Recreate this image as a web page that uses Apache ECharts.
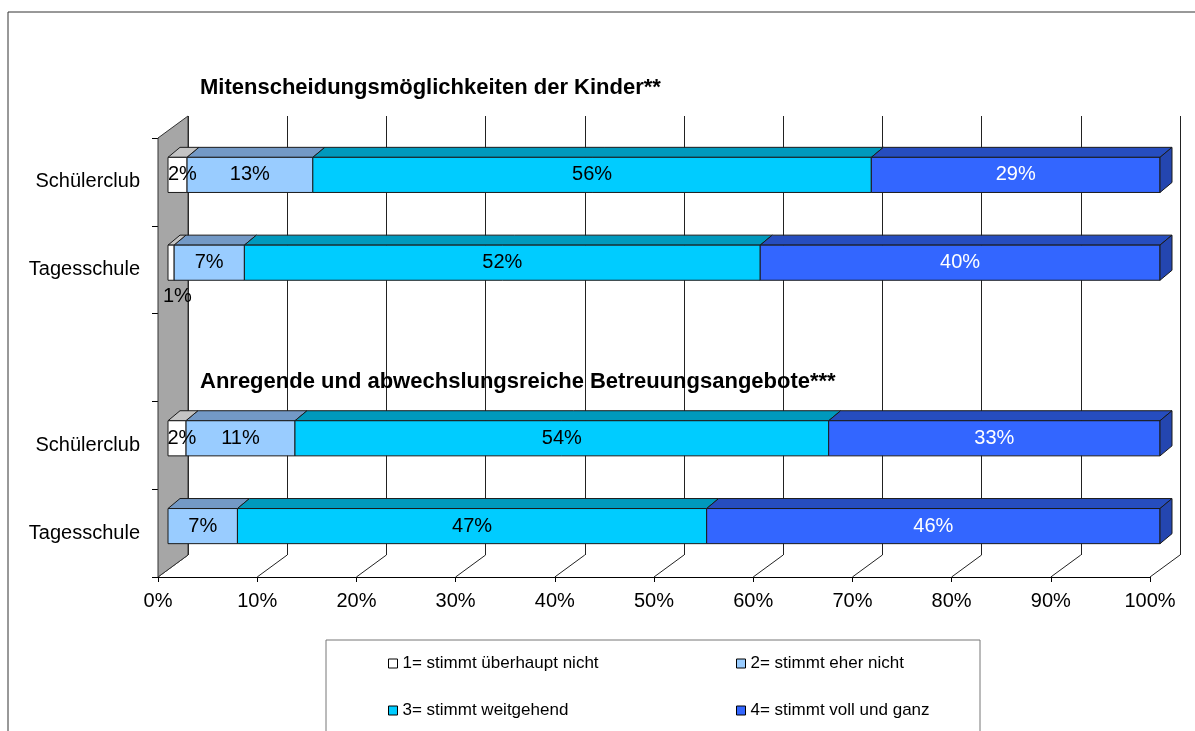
<!DOCTYPE html>
<html>
<head>
<meta charset="utf-8">
<title>Betreuung</title>
<script src="https://cdn.jsdelivr.net/npm/echarts@6/dist/echarts.min.js"></script>
<style>
  html, body { margin: 0; padding: 0; background: #fff; }
  #chart { width: 1195px; height: 731px; }
</style>
</head>
<body>
<div id="chart"></div>
<script>
// Zeilen von oben nach unten, die leere Zeile trennt die zwei Blöcke
const rowLabels = ['Schülerclub', 'Tagesschule', '', 'Schülerclub', 'Tagesschule'];
const blockTitles = [
  'Mitenscheidungsmöglichkeiten der Kinder**',
  'Anregende und abwechslungsreiche Betreuungsangebote***'
];
const seriesNames = [
  '1= stimmt überhaupt nicht',
  '2= stimmt eher nicht',
  '3= stimmt weitgehend',
  '4= stimmt voll und ganz'
];
// Anteile in % je Zeile
const stimmtNicht = [1.9, 0.6, null, 1.8, 0];
const eherNicht = [12.7, 7.1, null, 11.0, 7.0];
const weitgehend = [56.3, 52.0, null, 53.8, 47.3];
const vollGanz = [29.1, 40.3, null, 33.4, 45.7];
const xTicks = [0, 10, 20, 30, 40, 50, 60, 70, 80, 90, 100];

const FONT = '"Liberation Sans", Arial, sans-serif';
const DEPTH_X = 30, DEPTH_Y = 22; // Tiefe der 3D-Wand
const BAR_DX = 12, BAR_DY = 10;   // Tiefe der Balken

// Farben: Vorderseite, Oberseite, Seite, Textfarbe
const styles = [
  { front: '#ffffff', top: '#c4c4c4', side: '#a0a0a0', text: '#000' },
  { front: '#99ccff', top: '#7399c6', side: '#6c8fbb', text: '#000' },
  { front: '#00ccff', top: '#0099bd', side: '#0088aa', text: '#000' },
  { front: '#3366ff', top: '#264dbf', side: '#2446b0', text: '#fff' }
];

const chart = echarts.init(document.getElementById('chart'));

// gestapelte Start/Ende-Werte aufbauen
const allValues = [stimmtNicht, eherNicht, weitgehend, vollGanz];
const stacked = allValues.map(() => []);
rowLabels.forEach((_, r) => {
  let acc = 0;
  allValues.forEach((vals, i) => {
    const v = vals[r];
    if (v == null) return;
    stacked[i].push([r, acc, acc + v, v]);
    acc += v;
  });
});

function barRenderer(st, isLast) {
  return function (params, api) {
    const r = api.value(0), s = api.value(1), e = api.value(2), v = api.value(3);
    if (!(v > 0)) return null;
    const p0 = api.coord([s, r]);
    const p1 = api.coord([e, r]);
    const h = api.size([0, 1])[1] * 0.4;
    const x0 = p0[0], x1 = p1[0];
    const yt = p0[1] - h / 2, yb = p0[1] + h / 2;
    const line = { stroke: '#1a1a1a', lineWidth: 1 };
    const children = [
      {
        type: 'polygon',
        shape: { points: [[x0, yt], [x0 + BAR_DX, yt - BAR_DY], [x1 + BAR_DX, yt - BAR_DY], [x1, yt]] },
        style: Object.assign({ fill: st.top }, line)
      },
      {
        type: 'rect',
        shape: { x: x0, y: yt, width: x1 - x0, height: h },
        style: Object.assign({ fill: st.front }, line)
      }
    ];
    if (isLast) {
      children.push({
        type: 'polygon',
        shape: { points: [[x1, yt], [x1 + BAR_DX, yt - BAR_DY], [x1 + BAR_DX, yb - BAR_DY], [x1, yb]] },
        style: Object.assign({ fill: st.side }, line)
      });
    }
    const txt = Math.round(v) + '%';
    if (v < 1) {
      // zu schmal: Beschriftung unter den Balken
      children.push({
        type: 'text',
        style: { text: txt, x: x0 - 5, y: yb + 16, align: 'left', verticalAlign: 'middle',
                 fill: st.text, fontSize: 20, fontFamily: FONT }
      });
    } else {
      children.push({
        type: 'text',
        style: { text: txt, x: (x0 + x1) / 2 + (v < 3 ? 5 : 0), y: p0[1], align: 'center', verticalAlign: 'middle',
                 fill: st.text, fontSize: 20, fontFamily: FONT }
      });
    }
    return { type: 'group', children: children };
  };
}

// Boden-Linien und linke Wand
function frameRenderer(params, api) {
  const cs = params.coordSys;
  const x = api.coord([api.value(0), 0])[0];
  const yb = cs.y + cs.height;
  const children = [{
    type: 'line',
    shape: { x1: x, y1: yb, x2: x + DEPTH_X, y2: yb - DEPTH_Y },
    style: { stroke: '#222', lineWidth: 1 }
  }];
  if (api.value(0) === 0) {
    children.push({
      type: 'polygon',
      shape: { points: [[x, cs.y], [x + DEPTH_X, cs.y - DEPTH_Y], [x + DEPTH_X, yb - DEPTH_Y], [x, yb]] },
      style: { fill: '#a6a6a6', stroke: '#333', lineWidth: 1 }
    });
  }
  return { type: 'group', children: children };
}

const front = { left: 158, top: 138, width: 992, height: 439 };
const back = { left: front.left + DEPTH_X, top: front.top - DEPTH_Y, width: 992, height: 439 };
const mid = { left: 168, top: 131, width: 992, height: 439 };

const legendPos = [
  { left: 383, top: 650 },
  { left: 731, top: 650 },
  { left: 383, top: 697 },
  { left: 731, top: 697 }
];

const option = {
  backgroundColor: '#fff',
  animation: false,
  title: blockTitles.map((t, i) => ({
    text: t,
    left: 195,
    top: i === 0 ? 72 : 366,
    textStyle: { fontFamily: FONT, fontSize: 22, fontWeight: 'bold', color: '#000' }
  })),
  legend: seriesNames.map((n, i) => ({
    data: [n],
    left: legendPos[i].left,
    top: legendPos[i].top,
    icon: 'rect',
    itemWidth: 9,
    itemHeight: 9,
    itemStyle: { borderColor: '#000', borderWidth: 1 },
    textStyle: { fontFamily: FONT, fontSize: 17, color: '#000' },
    selectedMode: false
  })),
  grid: [
    Object.assign({}, front),
    Object.assign({}, back),
    Object.assign({}, mid)
  ],
  xAxis: [
    {
      gridIndex: 0, type: 'value', min: 0, max: 100, interval: 10,
      axisLine: { show: true, lineStyle: { color: '#000' } },
      axisTick: { show: true, length: 5, lineStyle: { color: '#000' } },
      axisLabel: { formatter: '{value}%', margin: 14, color: '#000', fontSize: 20, fontFamily: FONT },
      splitLine: { show: false }
    },
    {
      gridIndex: 1, type: 'value', min: 0, max: 100, interval: 10,
      axisLine: { show: false }, axisTick: { show: false }, axisLabel: { show: false },
      splitLine: { show: true, lineStyle: { color: '#222', width: 1 } }
    },
    {
      gridIndex: 2, type: 'value', min: 0, max: 100, show: false
    }
  ],
  yAxis: [
    {
      gridIndex: 0, type: 'category', inverse: true,
      data: rowLabels.map((_, i) => 'r' + i),
      axisLine: { show: true, lineStyle: { color: '#000' } },
      axisTick: { show: true, length: 6, lineStyle: { color: '#000' } },
      axisLabel: { formatter: (val, idx) => rowLabels[idx], margin: 18, color: '#000', fontSize: 20, fontFamily: FONT }
    },
    {
      gridIndex: 1, type: 'category', inverse: true, show: false,
      data: rowLabels.map((_, i) => 'r' + i)
    },
    {
      gridIndex: 2, type: 'category', inverse: true, show: false,
      data: rowLabels.map((_, i) => 'r' + i)
    }
  ],
  series: [
    {
      type: 'custom', name: 'frame', xAxisIndex: 0, yAxisIndex: 0, z: 1,
      data: xTicks.map(t => [t]),
      encode: { x: 0 },
      renderItem: frameRenderer,
      silent: true
    }
  ].concat(seriesNames.map((n, i) => ({
    type: 'custom',
    name: n,
    xAxisIndex: 2,
    yAxisIndex: 2,
    z: i === 0 ? 3 : 2,
    dimensions: ['row', 'start', 'end', 'value'],
    encode: { x: [1, 2], y: 0 },
    itemStyle: { color: styles[i].front, borderColor: '#000', borderWidth: 1 },
    data: stacked[i],
    renderItem: barRenderer(styles[i], i === seriesNames.length - 1)
  }))),
  graphic: [
    {
      type: 'rect', z: -1, silent: true,
      shape: { x: 8, y: 12, width: 1300, height: 800 },
      style: { fill: 'none', stroke: '#333', lineWidth: 1 }
    },
    {
      type: 'rect', z: -1, silent: true,
      shape: { x: 326, y: 640, width: 654, height: 120 },
      style: { fill: 'none', stroke: '#777', lineWidth: 1 }
    }
  ]
};

chart.setOption(option);
</script>
</body>
</html>
